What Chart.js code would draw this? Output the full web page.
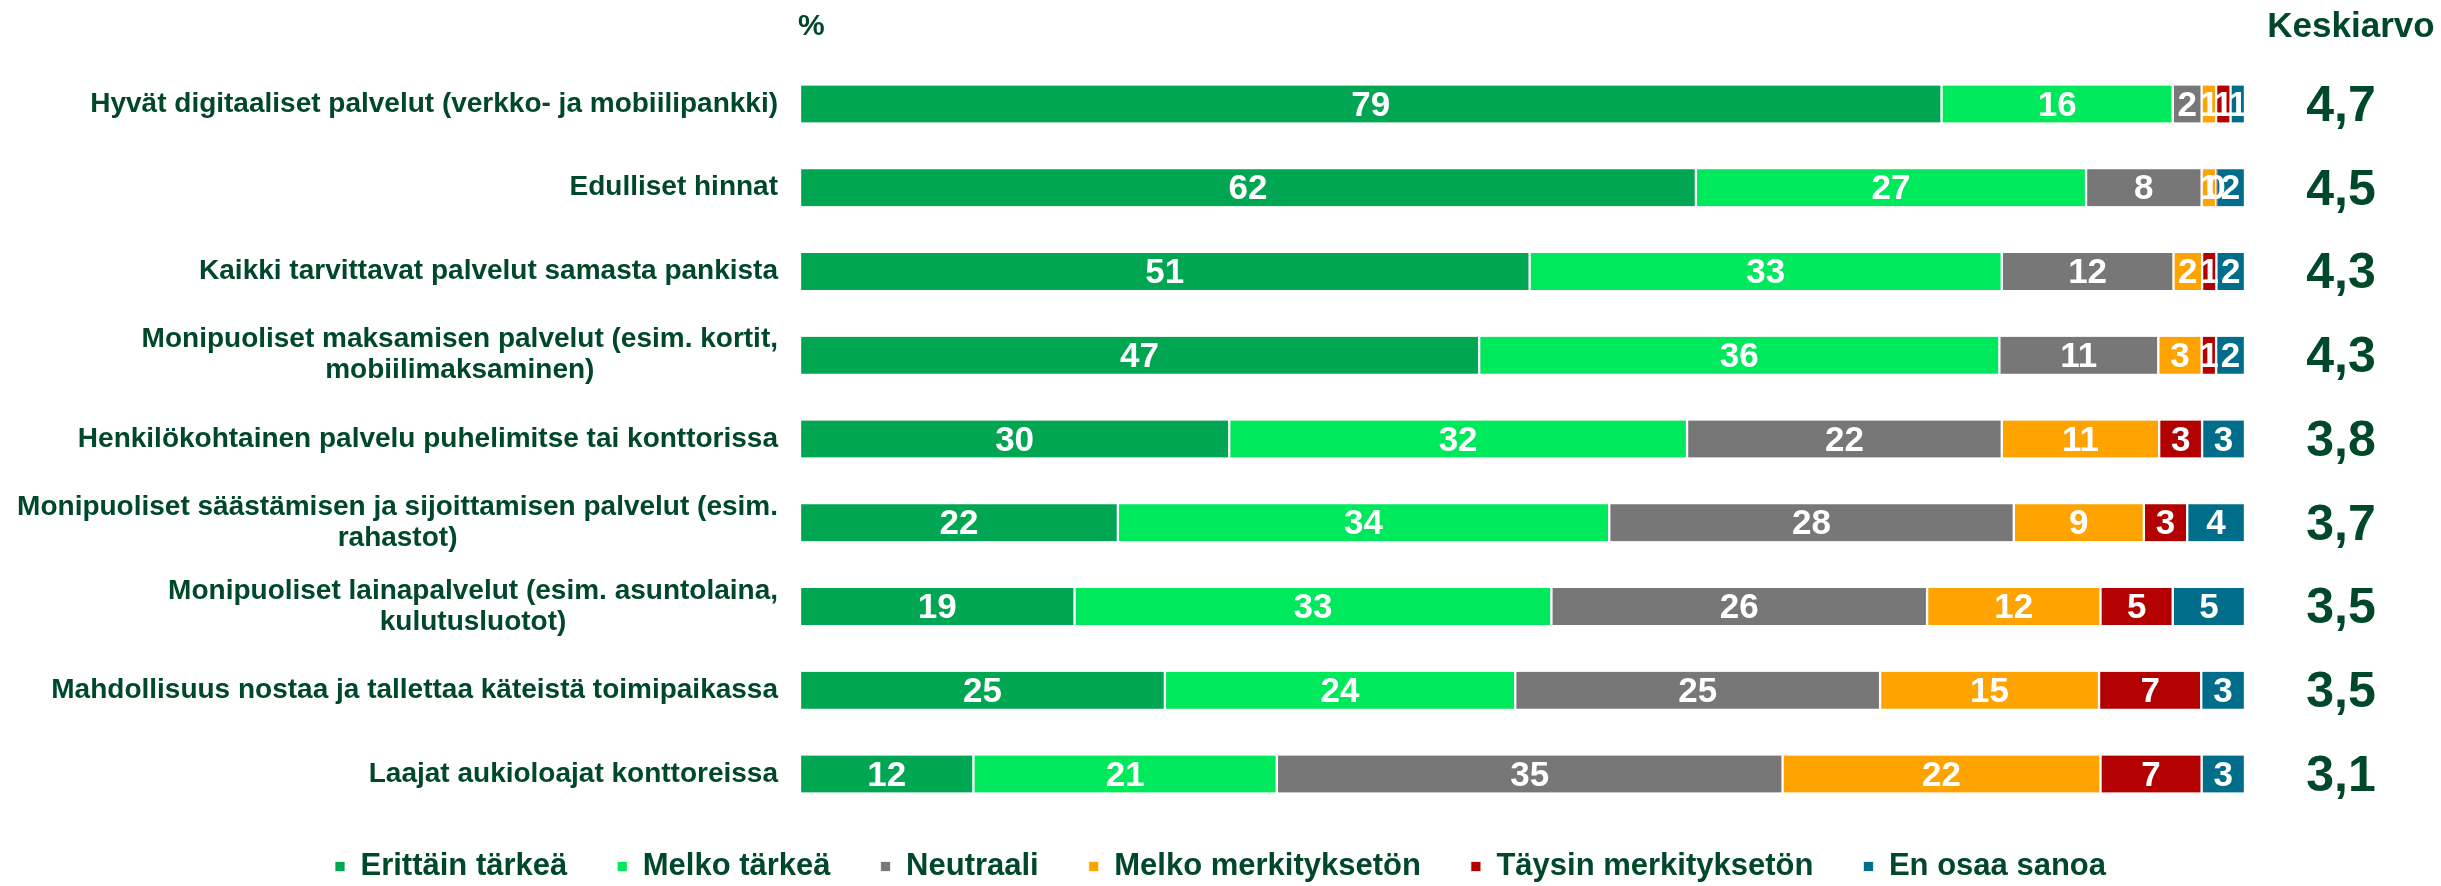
<!DOCTYPE html>
<html>
<head>
<meta charset="utf-8">
<script src="https://cdn.jsdelivr.net/npm/chart.js@4.4.1/dist/chart.umd.min.js"></script>
<style>
  html, body { margin: 0; background: #fff; }
  #kehys { width: 2441px; height: 886px; }
</style>
</head>
<body>
<div id="kehys"><canvas id="kaavio"></canvas></div>
<script>
const kategoriat = [
  ['Hyvät digitaaliset palvelut (verkko- ja mobiilipankki)'],
  ['Edulliset hinnat'],
  ['Kaikki tarvittavat palvelut samasta pankista'],
  ['Monipuoliset maksamisen palvelut (esim. kortit,', 'mobiilimaksaminen)'],
  ['Henkilökohtainen palvelu puhelimitse tai konttorissa'],
  ['Monipuoliset säästämisen ja sijoittamisen palvelut (esim.', 'rahastot)'],
  ['Monipuoliset lainapalvelut (esim. asuntolaina,', 'kulutusluotot)'],
  ['Mahdollisuus nostaa ja tallettaa käteistä toimipaikassa'],
  ['Laajat aukioloajat konttoreissa']
];
const erittainTarkea   = [79, 62, 51, 47, 30, 22, 19, 25, 12];
const melkoTarkea      = [16, 27, 33, 36, 32, 34, 33, 24, 21];
const neutraali        = [ 2,  8, 12, 11, 22, 28, 26, 25, 35];
const melkoMerk        = [ 1,  1,  2,  3, 11,  9, 12, 15, 22];
const taysinMerk       = [ 1,  0,  1,  1,  3,  3,  5,  7,  7];
const enOsaa           = [ 1,  2,  2,  2,  3,  4,  5,  3,  3];
const keskiarvot = ['4,7', '4,5', '4,3', '4,3', '3,8', '3,7', '3,5', '3,5', '3,1'];

const sarjat = [
  { nimi: 'Erittäin tärkeä', arvot: erittainTarkea, vari: '#00A651' },
  { nimi: 'Melko tärkeä', arvot: melkoTarkea, vari: '#00E85C' },
  { nimi: 'Neutraali', arvot: neutraali, vari: '#777777' },
  { nimi: 'Melko merkityksetön', arvot: melkoMerk, vari: '#FFA300' },
  { nimi: 'Täysin merkityksetön', arvot: taysinMerk, vari: '#B30000' },
  { nimi: 'En osaa sanoa', arvot: enOsaa, vari: '#006E8A' }
];

const tekstiVari = '#00482A';
const fontti = '"Liberation Sans", Arial, sans-serif';

// rivisummat: palkit venytetään 100 %:iin kuten alkuperäisessä
const summat = kategoriat.map((_, i) => sarjat.reduce((s, d) => s + d.arvot[i], 0));

const tekstit = {
  id: 'tekstit',
  afterDatasetsDraw(chart) {
    const ctx = chart.ctx;
    const y = chart.scales.y;
    const alue = chart.chartArea;
    ctx.save();
    ctx.textBaseline = 'middle';

    // arvot palkkien sisällä
    ctx.fillStyle = '#fff';
    ctx.textAlign = 'center';
    ctx.font = 'bold 35px ' + fontti;
    chart.data.datasets.forEach((ds, di) => {
      chart.getDatasetMeta(di).data.forEach((pala, i) => {
        ctx.fillText(String(ds.raaka[i]), (pala.x + pala.base) / 2, pala.y + 2);
      });
    });

    // kategorioiden nimet
    ctx.fillStyle = tekstiVari;
    ctx.font = 'bold 28px ' + fontti;
    const oikea = alue.left - 22;
    kategoriat.forEach((rivit, i) => {
      const lev = Math.max(...rivit.map(r => ctx.measureText(r).width));
      const kx = oikea - lev / 2;
      const ky = y.getPixelForValue(i);
      rivit.forEach((r, k) => {
        ctx.fillText(r, kx, ky + (k - (rivit.length - 1) / 2) * 31);
      });
    });

    // keskiarvot
    ctx.font = 'bold 50px ' + fontti;
    keskiarvot.forEach((k, i) => {
      ctx.fillText(k, 2341, y.getPixelForValue(i) + 3);
    });

    // otsikot
    ctx.font = 'bold 30px ' + fontti;
    ctx.textAlign = 'left';
    ctx.fillText('%', 798, 27);
    ctx.font = 'bold 35px ' + fontti;
    ctx.textAlign = 'center';
    ctx.fillText('Keskiarvo', 2351, 27);
    ctx.restore();
  }
};

new Chart(document.getElementById('kaavio'), {
  type: 'bar',
  data: {
    labels: kategoriat.map(r => r.join(' ')),
    datasets: sarjat.map(s => ({
      label: s.nimi,
      raaka: s.arvot,
      data: s.arvot.map((v, i) => v / summat[i] * 100),
      backgroundColor: s.vari,
      borderColor: '#ffffff',
      borderWidth: { left: 1.5, right: 1.5, top: 0, bottom: 0 },
      borderSkipped: false,
      barThickness: 37,
      clip: false
    }))
  },
  options: {
    indexAxis: 'y',
    responsive: true,
    maintainAspectRatio: false,
    animation: false,
    layout: { padding: { top: 104, left: 0, right: 0, bottom: 0 } },
    scales: {
      x: { stacked: true, min: 0, max: 100, display: false },
      y: {
        stacked: true, offset: false,
        grid: { display: false }, border: { display: false },
        ticks: { display: false },
        afterFit: s => { s.width = 800; }
      },
      oikea: {
        type: 'category', position: 'right', offset: false,
        grid: { display: false }, border: { display: false },
        ticks: { display: false },
        afterFit: s => { s.width = 196; }
      }
    },
    plugins: {
      tooltip: { enabled: false },
      legend: {
        position: 'bottom',
        maxHeight: 112,
        title: {
          display: true, text: '',
          font: { size: 10, lineHeight: 1 },
          padding: { top: 17, bottom: 0 }
        },
        labels: {
          boxWidth: 10,
          boxHeight: 10,
          padding: 50,
          color: tekstiVari,
          font: { family: fontti, size: 31, weight: 'bold', lineHeight: 1 }
        }
      }
    }
  },
  plugins: [tekstit]
});
</script>
</body>
</html>
